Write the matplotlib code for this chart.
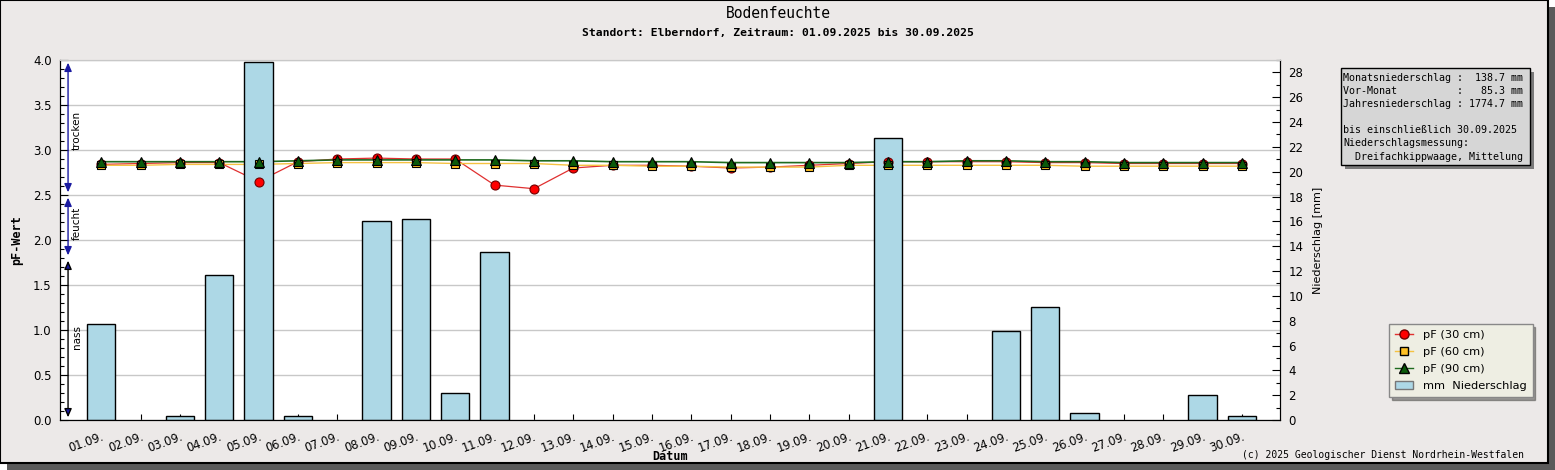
import matplotlib
matplotlib.use("Agg")
import matplotlib.pyplot as plt
from matplotlib.patches import Rectangle
from matplotlib.lines import Line2D
from matplotlib.ticker import MultipleLocator, FormatStrFormatter
import numpy as np

# data
days = ["%02d.09." % d for d in range(1, 31)]
pf_30 = [2.84, 2.85, 2.86, 2.86, 2.65, 2.87, 2.90, 2.91, 2.90, 2.90,
         2.61, 2.57, 2.80, 2.83, 2.83, 2.82, 2.80, 2.81, 2.83, 2.85,
         2.87, 2.87, 2.87, 2.87, 2.86, 2.86, 2.85, 2.85, 2.85, 2.85]
pf_60 = [2.83, 2.83, 2.84, 2.84, 2.84, 2.85, 2.86, 2.86, 2.86, 2.85,
         2.85, 2.85, 2.83, 2.83, 2.82, 2.82, 2.81, 2.81, 2.81, 2.83,
         2.83, 2.83, 2.83, 2.83, 2.83, 2.82, 2.82, 2.82, 2.82, 2.82]
pf_90 = [2.87, 2.87, 2.87, 2.87, 2.87, 2.88, 2.89, 2.89, 2.89, 2.89,
         2.89, 2.88, 2.88, 2.87, 2.87, 2.87, 2.86, 2.86, 2.86, 2.86,
         2.87, 2.87, 2.88, 2.88, 2.87, 2.87, 2.86, 2.86, 2.86, 2.86]
rain_mm = [7.7, 0, 0.3, 11.7, 28.8, 0.3, 0, 16.0, 16.2, 2.2,
           13.5, 0, 0, 0, 0, 0, 0, 0, 0, 0,
           22.7, 0, 0, 7.2, 9.1, 0.6, 0, 0, 2.0, 0.3]

zones = [("trocken", 2.53, 3.97, 3.22), ("feucht", 1.83, 2.47, 2.19), ("nass", 0.03, 1.77, 0.92)]
info_lines = ["Monatsniederschlag :  138.7 mm",
              "Vor-Monat          :   85.3 mm",
              "Jahresniederschlag : 1774.7 mm",
              "",
              "bis einschließlich 30.09.2025",
              "Niederschlagsmessung:",
              "  Dreifachkippwaage, Mittelung"]

W, H = 1555, 470
BG = "#ECE9E8"
mono = "DejaVu Sans Mono"


def fx(px):
    return px / W


def fy(py):
    return 1 - py / H


fig = plt.figure(figsize=(W / 100, H / 100), dpi=100, facecolor="white")

# frame with drop shadow
fig.add_artist(Rectangle((fx(7), 0), fx(1548), 463 / H, transform=fig.transFigure,
                         facecolor="#5a5a5a", edgecolor="none", zorder=-10))
fig.add_artist(Rectangle((0, 7 / H), fx(1548), 463 / H, transform=fig.transFigure,
                         facecolor=BG, edgecolor="black", lw=1.5, zorder=-9))

x = np.arange(len(days))
rain = np.array(rain_mm)
wet = rain > 0

ax = fig.add_axes([fx(60), fy(420), fx(1220), 360 / H])
ax.set_facecolor("white")
axr = ax.twinx()
axm = ax.twinx()
ax.set_zorder(1)
axr.set_zorder(2)
axm.set_zorder(3)
axr.patch.set_visible(False)
axm.patch.set_visible(False)

# lines (behind bars)
ax.plot(x, pf_30, color="#e03030", lw=0.9)
ax.plot(x, pf_60, color="#f5c242", lw=1.0)
ax.plot(x, pf_90, color="#1f6b1f", lw=1.2)

# precipitation bars, days without rain drawn as nothing
axr.bar(x[wet], rain[wet], width=0.72, color="#ADD8E6", edgecolor="black", lw=1)

# markers (in front of bars)
axm.plot(x, pf_30, ls="none", marker="o", ms=6.5, mfc="#FF0000", mec="#700000", mew=0.8)
axm.plot(x, pf_60, ls="none", marker="s", ms=5.5, mfc="#FFC125", mec="black", mew=0.8)
axm.plot(x, pf_90, ls="none", marker="^", ms=6.5, mfc="#0a5a0a", mec="black", mew=0.8)

for a in (ax, axr, axm):
    a.set_xlim(-1.05, 29.97)
ax.set_ylim(0, 4)
axm.set_ylim(0, 4)
axr.set_ylim(0, 29)
axm.axis("off")

# left axis
ax.yaxis.set_major_locator(MultipleLocator(0.5))
ax.yaxis.set_minor_locator(MultipleLocator(0.1))
ax.yaxis.set_major_formatter(FormatStrFormatter("%.1f"))
ax.tick_params(axis="y", which="major", direction="in", length=6, width=0.8, pad=6,
               labelsize=8.5, right=False)
ax.tick_params(axis="y", which="minor", direction="in", length=3, width=0.8, right=False)
ax.grid(axis="y", color="#c8c8c8", lw=1)
ax.set_axisbelow(True)

# x axis
ax.set_xticks(x)
ax.set_xticklabels(days, rotation=20, ha="right", va="top", rotation_mode="anchor", fontsize=8.3)
ax.tick_params(axis="x", direction="in", length=4, width=0.8, pad=7)

# right axis
axr.yaxis.set_major_locator(MultipleLocator(2))
axr.yaxis.set_minor_locator(MultipleLocator(1))
axr.tick_params(axis="y", which="major", direction="in", length=6, width=0.8, pad=6, labelsize=8.5)
axr.tick_params(axis="y", which="minor", direction="in", length=3, width=0.8)

for a in (ax, axr):
    a.spines["top"].set_color("#c8c8c8")

# moisture zone arrows
ytr = ax.get_yaxis_transform()
for name, lo, hi, ymid in zones:
    line_col = "black" if name == "nass" else "#1a1aa0"
    ax.annotate("", xy=(0.0066, hi), xytext=(0.0066, lo), xycoords=ytr, textcoords=ytr,
                arrowprops=dict(arrowstyle="<|-|>,head_length=0.5,head_width=0.22",
                                edgecolor=line_col, facecolor="#1a1aa0", lw=1,
                                shrinkA=0, shrinkB=0), zorder=5)
    ax.text(0.0140, ymid, name, transform=ytr, rotation=90, ha="center", va="center",
            fontsize=7.5, zorder=5)

# titles and labels
fig.text(fx(778), fy(14), "Bodenfeuchte", ha="center", va="center", family=mono, fontsize=10.5)
fig.text(fx(778), fy(33), "Standort: Elberndorf, Zeitraum: 01.09.2025 bis 30.09.2025",
         ha="center", va="center", family=mono, fontsize=8.2, weight="bold")
fig.text(fx(17), fy(240), "pF-Wert", rotation=90, ha="center", va="center",
         family=mono, fontsize=8.5, weight="bold")
fig.text(fx(670), fy(457), "Datum", ha="center", va="center", family=mono, fontsize=8.5, weight="bold")
fig.text(fx(1318), fy(240), "Niederschlag [mm]", rotation=90, ha="center", va="center", fontsize=8)
fig.text(fx(1524), fy(455), "(c) 2025 Geologischer Dienst Nordrhein-Westfalen",
         ha="right", va="center", family=mono, fontsize=7)

# info box
fig.add_artist(Rectangle((fx(1345), fy(169)), fx(189), 97 / H, transform=fig.transFigure,
                         facecolor="#7a7a7a", edgecolor="none"))
fig.add_artist(Rectangle((fx(1341), fy(165)), fx(189), 97 / H, transform=fig.transFigure,
                         facecolor="#d6d6d6", edgecolor="black", lw=1))
for k, line in enumerate(info_lines):
    fig.text(fx(1343), fy(78 + 13.1 * k), line, ha="left", va="center",
             family=mono, fontsize=7.2)

# legend
handles = [
    Line2D([], [], color="#e03030", lw=1, marker="o", ms=6.5, mfc="#FF0000", mec="#700000"),
    Line2D([], [], color="#f5c242", lw=1, marker="s", ms=5.5, mfc="#FFC125", mec="black"),
    Line2D([], [], color="#1f6b1f", lw=1, marker="^", ms=6.5, mfc="#0a5a0a", mec="black"),
    Rectangle((0, 0), 1, 1, facecolor="#ADD8E6", edgecolor="#777777"),
]
labels = ["pF (30 cm)", "pF (60 cm)", "pF (90 cm)", "mm  Niederschlag"]
leg = fig.legend(handles, labels, loc="upper left", bbox_to_anchor=(fx(1389), fy(324)),
                 borderaxespad=0, fontsize=8.2, frameon=True, fancybox=False, framealpha=1,
                 facecolor="#EEEEE3", edgecolor="#888888", handlelength=1.6,
                 borderpad=0.55, labelspacing=0.6, handletextpad=0.8, shadow=True)
leg.get_frame().set_linewidth(1)

fig.savefig("out.png", dpi=100, facecolor=fig.get_facecolor())
